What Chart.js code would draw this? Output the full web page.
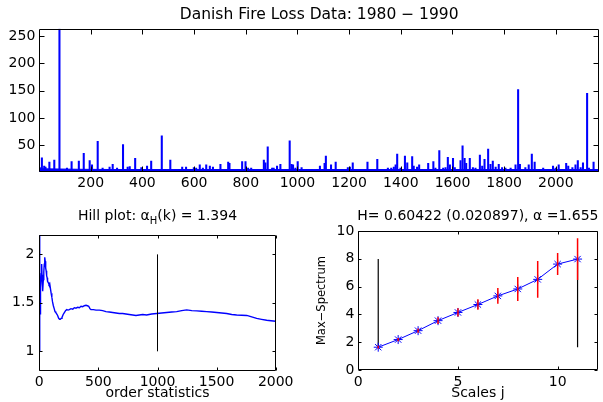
<!DOCTYPE html>
<html lang="en">
<head>
  <meta charset="UTF-8" />
  <title>Danish Fire Loss Data</title>
  <script src="https://cdn.jsdelivr.net/npm/chart.js"></script>
  <style>
    body { margin: 0; background: #fff; }
    #wrap { position: relative; width: 603px; height: 402px; overflow: hidden; }
    canvas { position: absolute; }
  </style>
</head>
<body>
  <div id="wrap">
    <canvas id="lossChart" width="603" height="200" style="left:0;top:0"></canvas>
    <canvas id="hillChart" width="300" height="202" style="left:0;top:200px"></canvas>
    <canvas id="spectrumChart" width="303" height="202" style="left:300px;top:200px"></canvas>
  </div>

  <script>
    // top panel: loss number -> loss size (millions DKK)
    const lossIndex = [3, 11, 20, 25, 40, 59, 79, 108, 126, 154, 173, 196, 205, 227, 246, 273, 285, 302, 325, 343,
      351, 372, 396, 418, 434, 475, 488, 508, 528, 541, 554, 569, 586, 599, 608, 622, 634, 647, 661, 673,
      685, 702, 732, 737, 751, 770, 786, 799, 809, 821, 831, 847, 860, 870, 876, 885, 902, 908, 921, 934,
      954, 970, 977, 983, 992, 1001, 1016, 1035, 1044, 1057, 1076, 1087, 1096, 1105, 1110, 1121, 1130, 1137, 1148, 1157,
      1173, 1195, 1203, 1214, 1225, 1244, 1257, 1271, 1289, 1309, 1328, 1350, 1363, 1373, 1380, 1386, 1399, 1416, 1425, 1444,
      1450, 1463, 1471, 1483, 1506, 1515, 1526, 1534, 1549, 1564, 1573, 1582, 1590, 1602, 1609, 1621, 1631, 1639, 1647, 1653,
      1667, 1679, 1689, 1706, 1715, 1724, 1738, 1747, 1756, 1767, 1779, 1792, 1805, 1825, 1844, 1854, 1861, 1882, 1895, 1907,
      1918, 1934, 1951, 1969, 1989, 1999, 2011, 2025, 2040, 2048, 2064, 2076, 2085, 2096, 2105, 2121, 2128, 2146, 2157];
    const lossValue = [9, 27, 12, 10, 19, 23, 263, 8, 20, 21, 35, 22, 14, 57, 8, 10, 15, 8, 51, 10,
      11, 26, 9, 12, 21, 67, 6, 23, 6, 6, 10, 10, 6, 9, 8, 14, 8, 14, 12, 10,
      6, 15, 19, 17, 5, 5, 20, 20, 8, 8, 6, 5, 5, 23, 18, 47, 8, 8, 12, 15,
      6, 58, 15, 14, 8, 20, 9, 6, 6, 5, 6, 12, 6, 17, 30, 5, 14, 6, 19, 6,
      6, 9, 10, 18, 5, 5, 5, 19, 5, 24, 5, 8, 8, 10, 14, 34, 8, 30, 18, 29,
      12, 10, 14, 6, 17, 6, 20, 8, 40, 8, 9, 28, 14, 26, 9, 6, 22, 49, 26, 17,
      26, 9, 8, 32, 12, 24, 43, 15, 21, 10, 15, 9, 8, 8, 14, 152, 15, 9, 14, 34,
      19, 5, 8, 5, 12, 8, 14, 6, 17, 12, 9, 14, 22, 9, 18, 145, 8, 19, 6];
    // dense band of small losses along the bottom
    const lossFloorIndex = [1, 150, 300, 2167];
    const lossFloorValue = [7, 6, 5.5, 5.5];
    const lossXTicks = [200, 400, 600, 800, 1000, 1200, 1400, 1600, 1800, 2000];
    const lossYTicks = [50, 100, 150, 200, 250];

    // bottom left: Hill estimator against number of order statistics k
    const hillK = [1, 2, 3, 4, 5, 6, 7, 8, 10, 12, 14, 17, 20, 23, 27, 30, 34, 38, 42, 46,
      50, 54, 58, 62, 66, 70, 76, 82, 88, 94, 100, 106, 112, 119, 126, 133, 140, 147, 155, 164,
      172, 178, 185, 192, 202, 212, 222, 232, 243, 254, 268, 283, 297, 310, 325, 339, 353, 367, 381, 395,
      407, 418, 428, 437, 458, 480, 508, 536, 564, 592, 620, 649, 677, 705, 733, 761, 790, 818, 846, 875,
      908, 950, 993, 1035, 1078, 1120, 1162, 1205, 1247, 1290, 1332, 1374, 1416, 1458, 1501, 1543, 1585, 1628, 1670, 1712,
      1755, 1797, 1839, 1880, 1924, 1960, 2000];
    const hillAlpha = [1.0, 2.45, 2.3, 2.1, 1.6, 1.42, 1.38, 1.5, 1.72, 1.62, 1.66, 1.8, 1.9, 1.79, 1.68, 1.62, 1.74, 1.82, 1.9, 1.97,
      1.93, 1.86, 1.83, 1.78, 1.76, 1.72, 1.71, 1.69, 1.7, 1.65, 1.6, 1.56, 1.51, 1.47, 1.44, 1.41, 1.4, 1.385, 1.37, 1.34,
      1.33, 1.33, 1.34, 1.35, 1.38, 1.4, 1.42, 1.43, 1.425, 1.43, 1.44, 1.435, 1.45, 1.445, 1.455, 1.45, 1.465, 1.46, 1.47, 1.475,
      1.47, 1.465, 1.44, 1.43, 1.43, 1.425, 1.425, 1.42, 1.41, 1.405, 1.4, 1.395, 1.39, 1.39, 1.385, 1.38, 1.375, 1.37, 1.375, 1.38,
      1.375, 1.385, 1.39, 1.395, 1.4, 1.405, 1.41, 1.42, 1.427, 1.42, 1.417, 1.413, 1.41, 1.405, 1.4, 1.395, 1.39, 1.38, 1.375, 1.372,
      1.37, 1.355, 1.34, 1.33, 1.32, 1.315, 1.31];
    const hillChosenK = 1000;
    const hillChosenRange = [1, 2];
    const hillXTicks = [0, 500, 1000, 1500, 2000];
    const hillYTicks = [1, 1.5, 2];

    // bottom right: max-spectrum with error bars
    const scalesJ = [1, 2, 3, 4, 5, 6, 7, 8, 9, 10, 11];
    const maxSpectrum = [1.64, 2.19, 2.83, 3.55, 4.14, 4.71, 5.33, 5.83, 6.52, 7.62, 7.98];
    const maxSpectrumErr = [0.1, 0.12, 0.15, 0.24, 0.3, 0.38, 0.57, 0.86, 1.33, 0.79, 1.5];
    const fitScales = [1, 11];
    const spectrumXTicks = [0, 5, 10];
    const spectrumYTicks = [0, 2, 4, 6, 8, 10];

    Chart.defaults.font.family = "'DejaVu Sans', sans-serif";
    Chart.defaults.font.size = 14;
    Chart.defaults.color = '#000';

    const BLUE = '#0000ff';
    const RED = '#ff0000';

    // box round the axes, ticks pointing inwards, title centred on the axes
    const matlabAxes = {
      id: 'matlabAxes',
      afterDraw(chart, args, opts) {
        const { ctx, chartArea: a } = chart;
        const xs = chart.scales.x, ys = chart.scales.y;
        ctx.save();
        ctx.strokeStyle = '#000';
        ctx.lineWidth = 1;
        const l = Math.round(a.left) + 0.5, r = Math.round(a.right) - 0.5;
        const t = Math.round(a.top) + 0.5, b = Math.round(a.bottom) - 0.5;
        const n = opts.tick;
        ctx.beginPath();
        ctx.rect(l, t, r - l, b - t);
        xs.ticks.forEach(tk => {
          const p = Math.round(xs.getPixelForValue(tk.value)) + 0.5;
          ctx.moveTo(p, b); ctx.lineTo(p, b - n);
          ctx.moveTo(p, t); ctx.lineTo(p, t + n);
        });
        ys.ticks.forEach(tk => {
          const p = Math.round(ys.getPixelForValue(tk.value)) + 0.5;
          ctx.moveTo(l, p); ctx.lineTo(l + n, p);
          ctx.moveTo(r, p); ctx.lineTo(r - n, p);
        });
        ctx.stroke();

        ctx.fillStyle = '#000';
        ctx.textBaseline = 'alphabetic';
        ctx.textAlign = 'left';
        let total = 0;
        const parts = opts.title.map(pt => {
          ctx.font = pt.font;
          const w = ctx.measureText(pt.text).width;
          total += w;
          return { ...pt, w };
        });
        let x = (a.left + a.right) / 2 - total / 2;
        parts.forEach(pt => {
          ctx.font = pt.font;
          ctx.fillText(pt.text, x, opts.titleY + (pt.dy || 0));
          x += pt.w;
        });
        ctx.restore();
      }
    };

    function axis(min, max, ticks, size, pad, extra) {
      return Object.assign({
        type: 'linear',
        min: min,
        max: max,
        offset: false,
        grid: { display: false, drawTicks: false },
        border: { display: false },
        afterBuildTicks: s => { s.ticks = ticks.map(v => ({ value: v })); },
        ticks: { autoSkip: false, maxRotation: 0, padding: pad, callback: v => String(v) },
        afterFit: s => { if (s.isHorizontal()) s.height = size; else s.width = size; }
      }, extra || {});
    }

    const common = {
      responsive: false,
      animation: false,
      devicePixelRatio: 1,
      events: []
    };

    const F14 = "14px 'DejaVu Sans', sans-serif";

    // top: the loss series
    new Chart(document.getElementById('lossChart'), {
      type: 'bar',
      data: {
        datasets: [{
          data: lossIndex.map((k, i) => ({ x: k, y: lossValue[i] })),
          backgroundColor: BLUE,
          barThickness: 1.4,
          grouped: false
        }, {
          type: 'line',
          data: lossFloorIndex.map((k, i) => ({ x: k, y: lossFloorValue[i] })),
          borderColor: BLUE,
          borderWidth: 1,
          backgroundColor: BLUE,
          fill: 'origin',
          pointRadius: 0
        }]
      },
      options: Object.assign({}, common, {
        layout: { padding: { top: 28.7, right: 4, left: 0, bottom: 0 } },
        plugins: {
          legend: { display: false },
          tooltip: { enabled: false },
          matlabAxes: {
            tick: 5,
            titleY: 18.5,
            title: [{ text: 'Danish Fire Loss Data: 1980 \u2212 1990', font: "15.5px 'DejaVu Sans', sans-serif" }]
          }
        },
        scales: {
          x: axis(1, 2167, lossXTicks, 28, 3),
          y: axis(1, 263.25, lossYTicks, 39.3, 4)
        }
      }),
      plugins: [matlabAxes]
    });

    // bottom left: Hill plot
    new Chart(document.getElementById('hillChart'), {
      type: 'line',
      data: {
        datasets: [{
          data: hillChosenRange.map(v => ({ x: hillChosenK, y: v })),
          borderColor: '#000',
          borderWidth: 1,
          pointRadius: 0
        }, {
          data: hillK.map((k, i) => ({ x: k, y: hillAlpha[i] })),
          borderColor: BLUE,
          borderWidth: 1.4,
          pointRadius: 0,
          tension: 0
        }]
      },
      options: Object.assign({}, common, {
        layout: { padding: { top: 35, right: 24.3, left: 0, bottom: 0 } },
        plugins: {
          legend: { display: false },
          tooltip: { enabled: false },
          matlabAxes: {
            tick: 3,
            titleY: 20,
            title: [
              { text: 'Hill plot: \u03b1', font: F14 },
              { text: 'H', font: "10px 'DejaVu Sans', sans-serif", dy: 4 },
              { text: '(k) = 1.394', font: F14 }
            ]
          }
        },
        scales: {
          x: axis(0, 2000, hillXTicks, 31.3, 3.5, {
            title: { display: true, text: 'order statistics', padding: 0, font: { size: 14 } }
          }),
          y: axis(0.8, 2.2, hillYTicks, 39.3, 5)
        }
      }),
      plugins: [matlabAxes]
    });

    // bottom right: max-spectrum
    const errBars = [];
    scalesJ.forEach((j, i) => {
      errBars.push({ x: j, y: maxSpectrum[i] - maxSpectrumErr[i] });
      errBars.push({ x: j, y: maxSpectrum[i] + maxSpectrumErr[i] });
      errBars.push({ x: j, y: null });
    });
    const lo = maxSpectrum[scalesJ.indexOf(fitScales[0])];
    const hi = maxSpectrum[scalesJ.indexOf(fitScales[1])];
    const fitLines = [];
    fitScales.forEach(j => {
      fitLines.push({ x: j, y: lo }, { x: j, y: hi }, { x: j, y: null });
    });

    new Chart(document.getElementById('spectrumChart'), {
      type: 'line',
      data: {
        datasets: [{
          data: errBars,
          borderColor: RED,
          borderWidth: 1.5,
          pointRadius: 0,
          spanGaps: false
        }, {
          data: scalesJ.map((j, i) => ({ x: j, y: maxSpectrum[i] })),
          borderColor: BLUE,
          borderWidth: 1,
          pointStyle: 'star',
          pointRadius: 4.5,
          pointBorderColor: BLUE,
          pointBorderWidth: 1,
          tension: 0
        }, {
          data: fitLines,
          borderColor: '#000',
          borderWidth: 1.2,
          pointRadius: 0,
          spanGaps: false
        }]
      },
      options: Object.assign({}, common, {
        layout: { padding: { top: 31, right: 3, left: 0, bottom: 0 } },
        plugins: {
          legend: { display: false },
          tooltip: { enabled: false },
          matlabAxes: {
            tick: 3,
            titleY: 20,
            title: [{ text: 'H= 0.60422 (0.020897), \u03b1 =1.655', font: F14 }]
          }
        },
        scales: {
          x: axis(0, 12, spectrumXTicks, 32, 3.5, {
            title: { display: true, text: 'Scales j', padding: 0, font: { size: 14 } }
          }),
          y: axis(0, 10, spectrumYTicks, 58.3, 4, {
            title: { display: true, text: 'Max\u2212Spectrum', padding: { top: 15, bottom: 0 }, font: { size: 11.5 } }
          })
        }
      }),
      plugins: [matlabAxes]
    });
  </script>
</body>
</html>
